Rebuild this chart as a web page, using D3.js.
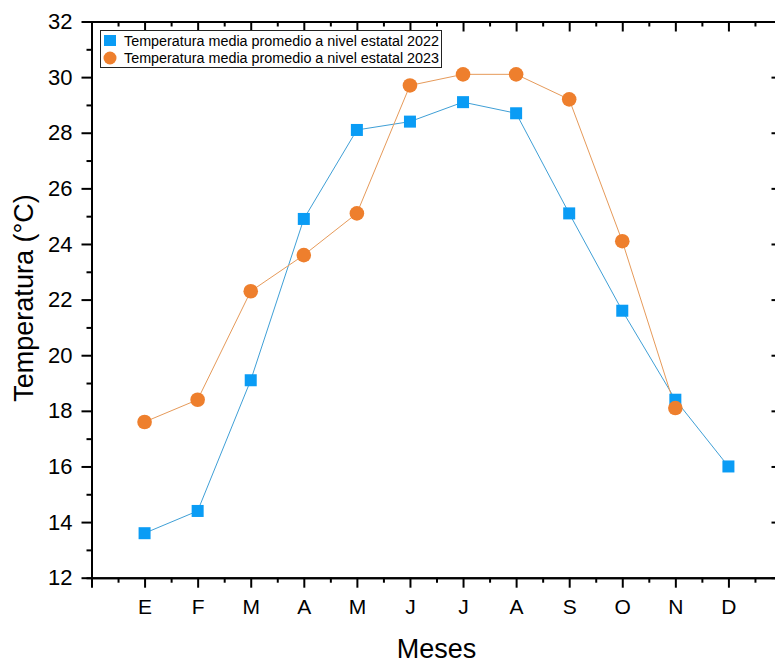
<!DOCTYPE html>
<html>
<head>
<meta charset="utf-8">
<script src="https://cdn.jsdelivr.net/npm/d3@7"></script>
<style>
  html, body { margin: 0; padding: 0; background: #fff; }
  svg { display: block; font-family: "Liberation Sans", Arial, sans-serif; }
</style>
</head>
<body>
<script>
// chart data
const months = ['E', 'F', 'M', 'A', 'M', 'J', 'J', 'A', 'S', 'O', 'N', 'D'];
const temp2022 = [13.6, 14.4, 19.1, 24.9, 28.1, 28.4, 29.1, 28.7, 25.1, 21.6, 18.4, 16.0];
const temp2023 = [17.6, 18.4, 22.3, 23.6, 25.1, 29.7, 30.1, 30.1, 29.2, 24.1, 18.1];
const yTicks = [12, 14, 16, 18, 20, 22, 24, 26, 28, 30, 32];
const seriesNames = [
  'Temperatura media promedio a nivel estatal 2022',
  'Temperatura media promedio a nivel estatal 2023'
];

window.onload = () => {
  const width = 775,
    height = 665,
    left = 91.5,
    right = 781.5,
    top = 21.5,
    bottom = 577.7,
    blue = '#0a9cf5',
    orange = '#ee7f2d';

  const svg = d3
    .select('body')
    .append('svg')
    .attr('width', width)
    .attr('height', height);

  const x = d3.scaleLinear().domain([0, 13]).range([left, right]);
  const y = d3.scaleLinear().domain([12, 32]).range([bottom, top]);

  const majorX = d3.range(0, 14);
  const minorX = d3.range(0.5, 13, 1);
  const minorY = d3.range(13, 32, 2);

  // minor ticks first, then the major ones with labels
  svg.append('g')
    .attr('transform', `translate(0,${bottom})`)
    .call(d3.axisBottom(x).tickValues(minorX).tickSize(5).tickFormat(''));
  svg.append('g')
    .attr('class', 'xaxis')
    .attr('transform', `translate(0,${bottom})`)
    .call(d3.axisBottom(x).tickValues(majorX).tickSizeInner(10).tickSizeOuter(0).tickPadding(11.5)
      .tickFormat(d => (d >= 1 && d <= 12 ? months[d - 1] : '')));

  svg.append('g')
    .attr('transform', `translate(0,${top})`)
    .call(d3.axisBottom(x).tickValues(minorX).tickSize(5).tickFormat(''));
  svg.append('g')
    .attr('transform', `translate(0,${top})`)
    .call(d3.axisBottom(x).tickValues(majorX).tickSizeInner(10).tickSizeOuter(0).tickFormat(''));

  svg.append('g')
    .attr('transform', `translate(${left},0)`)
    .call(d3.axisLeft(y).tickValues(minorY).tickSize(5).tickFormat(''));
  svg.append('g')
    .attr('class', 'yaxis')
    .attr('transform', `translate(${left},0)`)
    .call(d3.axisLeft(y).tickValues(yTicks).tickSizeInner(10).tickSizeOuter(0).tickPadding(9));

  svg.append('g')
    .attr('transform', `translate(${right},0)`)
    .call(d3.axisRight(y).tickValues(minorY).tickSize(-5).tickFormat(''));
  svg.append('g')
    .attr('transform', `translate(${right},0)`)
    .call(d3.axisRight(y).tickValues(yTicks).tickSizeInner(-10).tickSizeOuter(0).tickFormat(''));

  svg.selectAll('.domain, .tick line')
    .attr('stroke', '#000')
    .attr('stroke-width', 2);
  svg.selectAll('.tick text')
    .attr('fill', '#000')
    .style('font-family', '"Liberation Sans", Arial, sans-serif');
  svg.selectAll('.xaxis .tick text').style('font-size', '21px');
  svg.selectAll('.yaxis .tick text').style('font-size', '22px');

  // axis titles
  svg.append('text')
    .attr('x', (left + right) / 2)
    .attr('y', 658)
    .attr('text-anchor', 'middle')
    .style('font-size', '27px')
    .text('Meses');
  svg.append('text')
    .attr('transform', 'translate(33,298) rotate(-90)')
    .attr('text-anchor', 'middle')
    .style('font-size', '27px')
    .text('Temperatura (°C)');

  // lines
  const line = d3.line().x((d, i) => x(i + 1)).y(d => y(d));
  svg.append('path')
    .datum(temp2022)
    .attr('d', line)
    .attr('fill', 'none')
    .attr('stroke', '#3f9fd6')
    .attr('stroke-width', 1);
  svg.append('path')
    .datum(temp2023)
    .attr('d', line)
    .attr('fill', 'none')
    .attr('stroke', '#e69a5a')
    .attr('stroke-width', 1);

  // markers
  const sq = 12;
  svg.selectAll('rect.m22')
    .data(temp2022)
    .enter()
    .append('rect')
    .attr('class', 'm22')
    .attr('x', (d, i) => x(i + 1) - sq / 2)
    .attr('y', d => y(d) - sq / 2)
    .attr('width', sq)
    .attr('height', sq)
    .attr('fill', blue);
  svg.selectAll('circle.m23')
    .data(temp2023)
    .enter()
    .append('circle')
    .attr('class', 'm23')
    .attr('cx', (d, i) => x(i + 1))
    .attr('cy', d => y(d))
    .attr('r', 7.3)
    .attr('fill', orange);

  // legend
  const lg = svg.append('g');
  lg.append('rect')
    .attr('x', 100.5)
    .attr('y', 30.5)
    .attr('width', 341)
    .attr('height', 37)
    .attr('fill', '#fff')
    .attr('stroke', '#222')
    .attr('stroke-width', 1);
  lg.append('rect')
    .attr('x', 104)
    .attr('y', 35)
    .attr('width', 12)
    .attr('height', 11)
    .attr('fill', blue);
  lg.append('circle')
    .attr('cx', 110)
    .attr('cy', 58)
    .attr('r', 6.5)
    .attr('fill', orange);
  lg.selectAll('text')
    .data(seriesNames)
    .enter()
    .append('text')
    .attr('x', 124)
    .attr('y', (d, i) => 45.5 + i * 17)
    .attr('textLength', 315)
    .attr('lengthAdjust', 'spacingAndGlyphs')
    .style('font-size', '14px')
    .text(d => d);
};
</script>
</body>
</html>
